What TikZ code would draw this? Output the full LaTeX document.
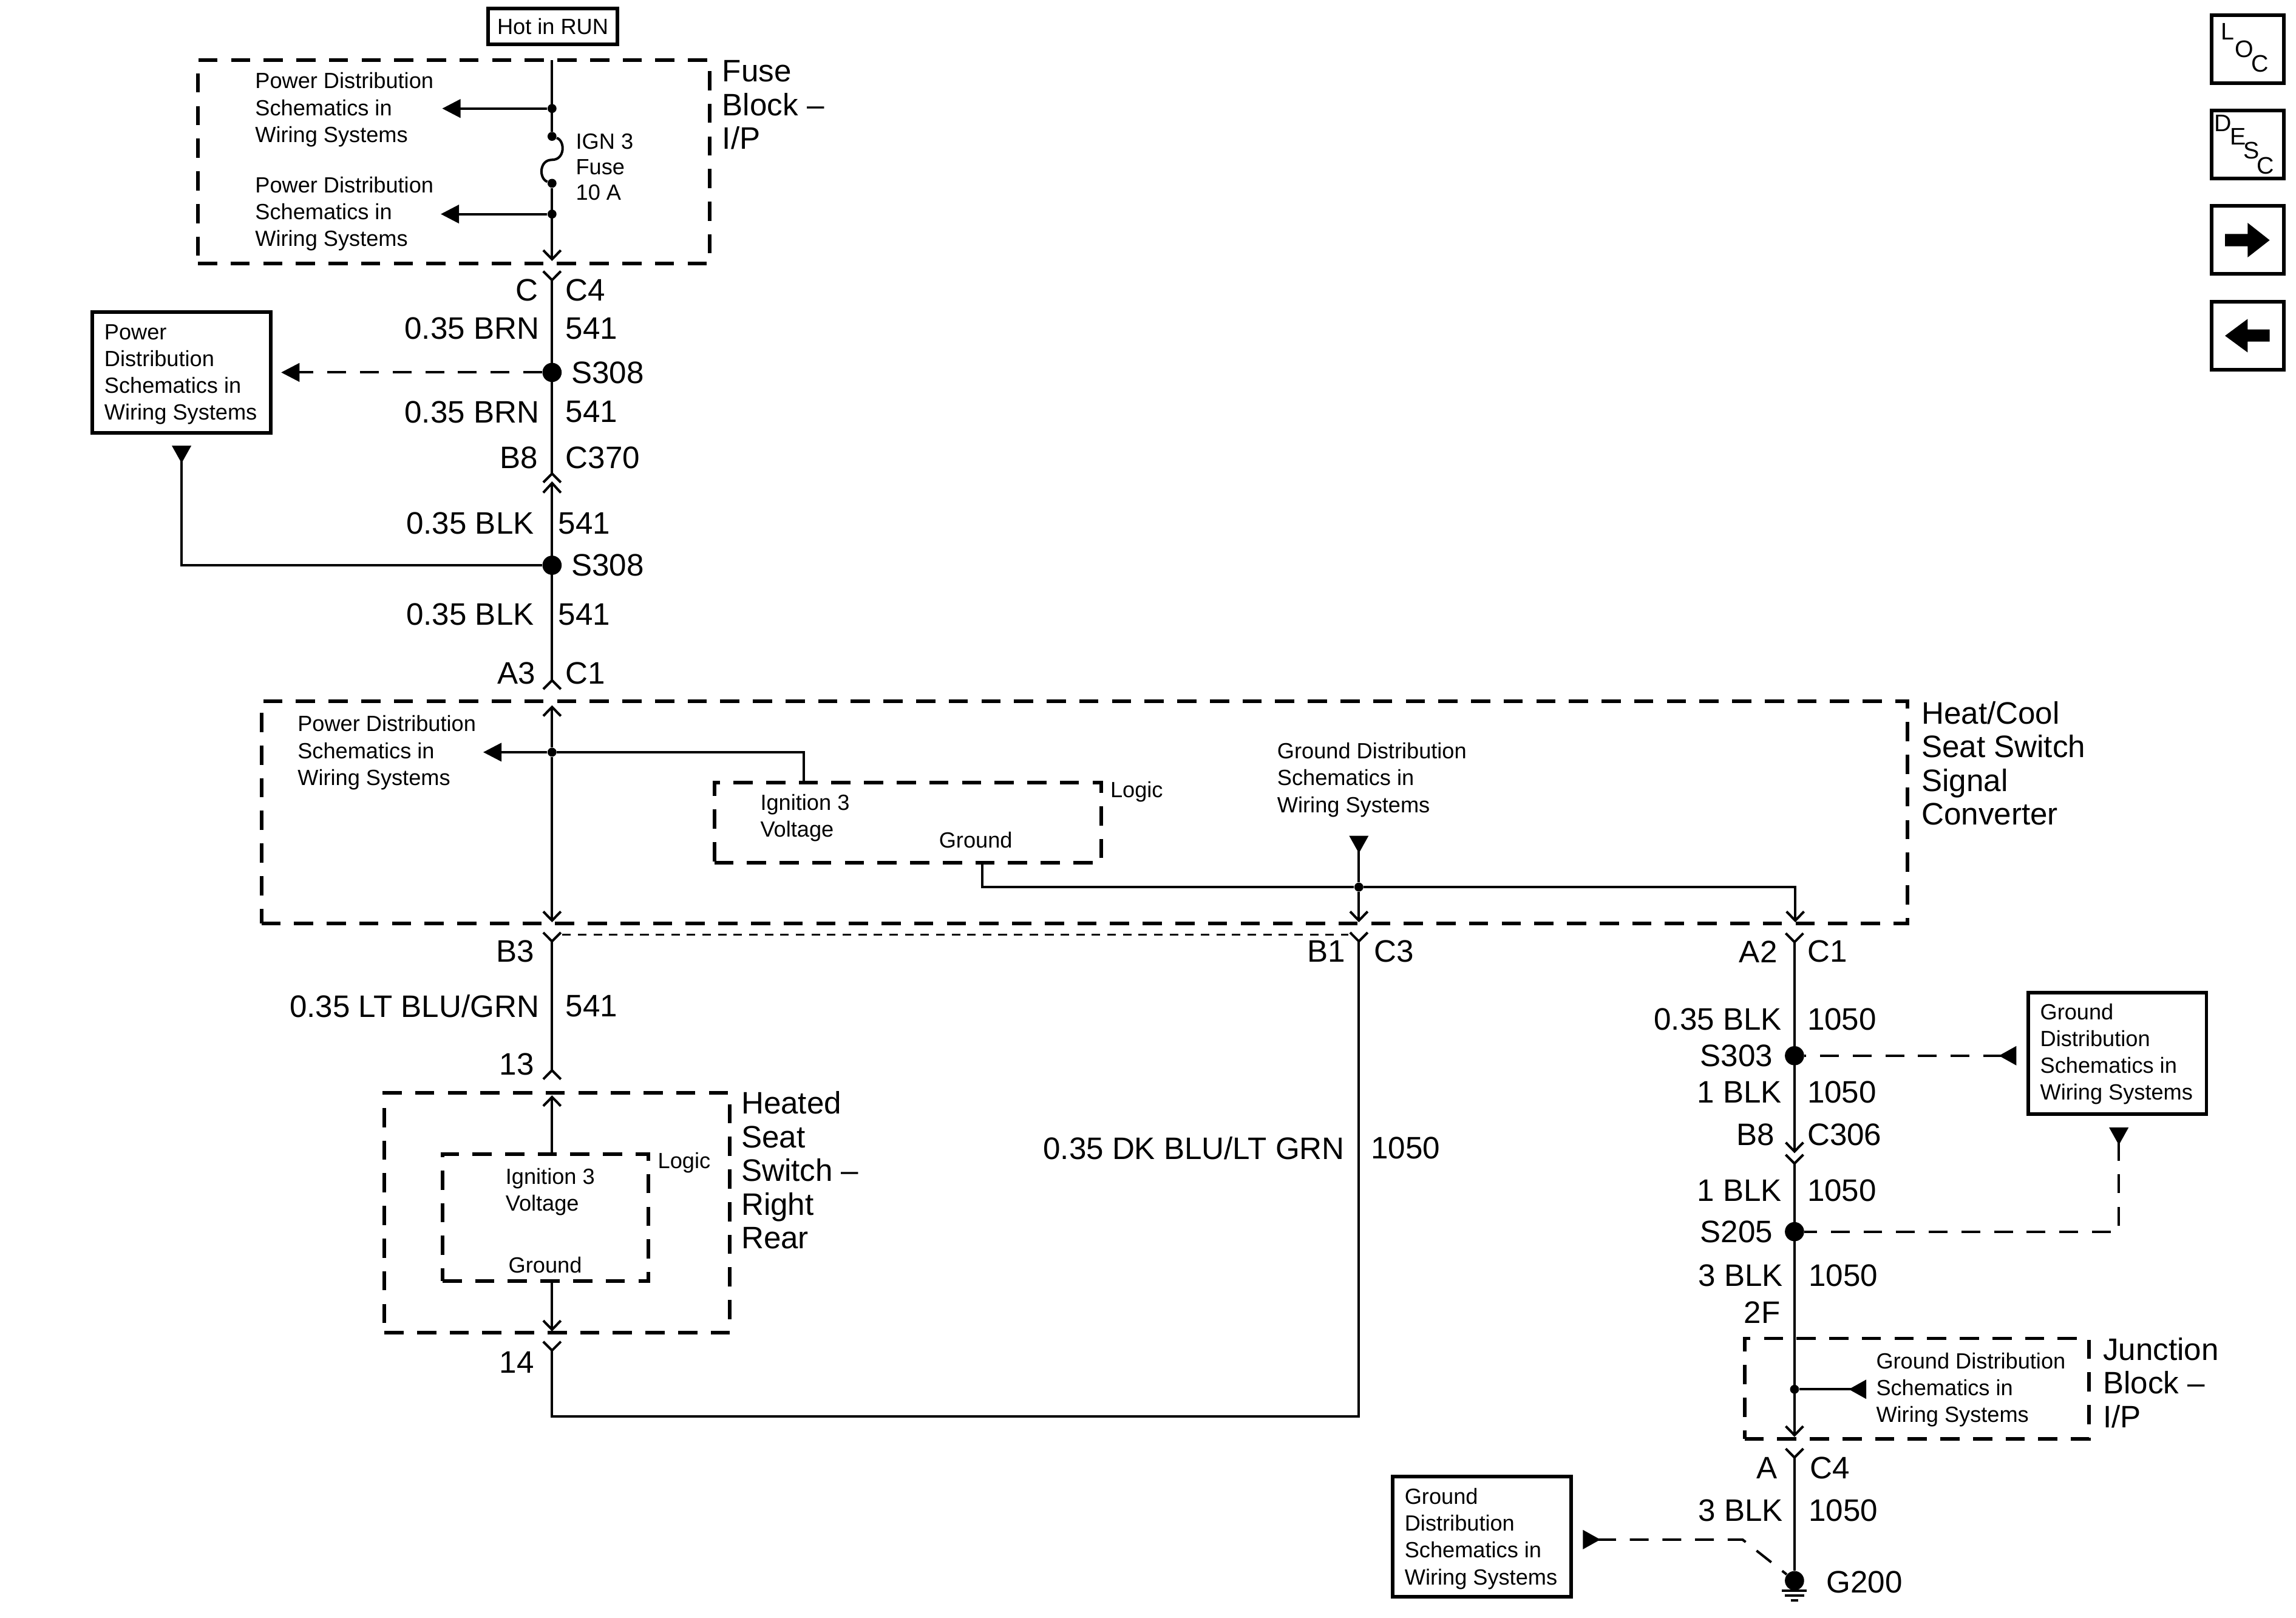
\documentclass[tikz,border=0pt]{standalone}
\usepackage{fontspec}
\setmainfont{Liberation Sans}
\usetikzlibrary{arrows.meta}
\tikzset{
  wire/.style={line width=1.15pt},
  conn/.style={wire, -{Straight Barb[length=4.2pt,width=8.2pt,line width=1.15pt]}},
  tipfill/.style={wire, -{Triangle[length=8.6pt,width=8.6pt]}},
  tipback/.style={wire, {Triangle[reversed,length=8.2pt,width=8.8pt]}-},
  dashwire/.style={dash pattern=on 8.8pt off 6.5pt},
  dashbox/.style={draw, line width=1.7pt, dash pattern=on 9pt off 6.3pt, inner sep=0pt},
  solidbox/.style={draw, line width=1.7pt, inner sep=0pt},
  dot/.style={circle, fill, inner sep=0pt, minimum size=4.2pt},
  splice/.style={circle, fill, inner sep=0pt, minimum size=9pt},
  small/.style={font=\fontsize{10.3}{12.6}\selectfont, align=left, inner sep=0pt},
  big/.style={font=\fontsize{14.55}{15.8}\selectfont, align=left, inner sep=0pt},
  pinl/.style={big, anchor=east},
  pinr/.style={big, anchor=west},
  txt/.style={small, anchor=west, yshift=-0.6pt},
  blocklbl/.style={big, anchor=north west},
  letter/.style={font=\fontsize{11.2}{13}\selectfont, inner sep=0pt}
}
\begin{document}
\begin{tikzpicture}[x=0.02412cm, y=-0.02415cm]
  \useasboundingbox (0,0) rectangle (1568,1103.1);

  % top fuse block
  \node[solidbox, minimum width=60.4pt, minimum height=16.6pt] (hot) at (377.5,18) {\fontsize{10.3}{12}\selectfont Hot in RUN};
  \node[dashbox, minimum width=240pt, minimum height=95.3pt] (fuse) at (310,110.5) {};
  \node[blocklbl] (fuselbl) at (493,41) {Fuse\\Block --\\I/P};
  \node[dot] (f1) at (377,74) {};
  \node[dot] (f2) at (377,93) {};
  \node[dot] (f3) at (377,125) {};
  \node[dot] (f4) at (377,146) {};
  \node[txt] (pd1) at (174,74) {Power Distribution\\Schematics in\\Wiring Systems};
  \node[txt] (pd2) at (174,145) {Power Distribution\\Schematics in\\Wiring Systems};
  \node[txt] (ign) at (393,113) {IGN 3\\[-0.6pt]Fuse\\[-0.6pt]10 A};
  \coordinate (ftop) at (377,41);
  \coordinate (fbot) at (377,178);
  \coordinate (a1) at (302,74);
  \coordinate (a2) at (301,146);
  \draw[wire] (ftop) -- (f2);
  \draw[wire] (f2) .. controls (386,96) and (386,109) .. (377,109) .. controls (368,109) and (368,122) .. (f3);
  \draw[conn] (f3) -- (fbot);
  \draw[tipfill] (f1) -- (a1);
  \draw[tipfill] (f4) -- (a2);

  % upper wire with the two splices
  \coordinate (y1) at (377,191);
  \coordinate (c370a) at (377,323);
  \coordinate (c370b) at (377,329.5);
  \coordinate (y2) at (377,464);
  \node[splice] (s1) at (377,254) {};
  \node[splice] (s2) at (377,385.5) {};
  \draw[wire] (371,185) -- (y1) -- (383,185);
  \draw[wire] (y1) -- (c370a);
  \draw[wire] (371,329) -- (c370a) -- (383,329);
  \draw[wire] (371,336) -- (c370b) -- (383,336);
  \draw[wire] (c370b) -- (y2);
  \draw[wire] (371,470) -- (y2) -- (383,470);
  \node[pinl] (lc) at (368,198) {C};
  \node[pinr] (rc) at (386,198) {C4};
  \node[pinl] (l1) at (368.5,224) {0.35 BRN};
  \node[pinr] (r1) at (386,224) {541};
  \node[pinr] (sp1) at (390,254) {S308};
  \node[pinl] (l2) at (368.5,281) {0.35 BRN};
  \node[pinr] (r2) at (386,281) {541};
  \node[pinl] (lb) at (367.5,312) {B8};
  \node[pinr] (rb) at (386,312) {C370};
  \node[pinl] (l3) at (365,357) {0.35 BLK};
  \node[pinr] (r3) at (381,357) {541};
  \node[pinr] (sp2) at (390,385.5) {S308};
  \node[pinl] (l4) at (365,419) {0.35 BLK};
  \node[pinr] (r4) at (381,419) {541};
  \node[pinl] (la) at (366,459) {A3};
  \node[pinr] (ra) at (386,459) {C1};

  % power distribution box on the left
  \node[solidbox, minimum width=83.5pt, minimum height=56.5pt] (pwr) at (124,254) {};
  \node[txt] (pwrtxt) at (71,254.5) {Power\\Distribution\\Schematics in\\Wiring Systems};
  \coordinate (a3) at (192,254);
  \coordinate (a4) at (124,304);
  \draw[tipfill, dashwire] (s1) -- (a3);
  \draw[tipback] (a4) |- (s2);

  % signal converter
  \node[dashbox, minimum width=771.5pt, minimum height=104pt] (conv) at (740.5,554) {};
  \node[blocklbl] (convlbl) at (1312,478) {Heat/Cool\\Seat Switch\\Signal\\Converter};
  \node[dashbox, minimum width=181.5pt, minimum height=37.5pt] (logic1) at (620,561) {};
  \node[txt] (logiclbl1) at (758,539) {Logic};
  \node[txt] (ig1) at (519,557) {Ignition 3\\Voltage};
  \node[txt] (gnd1) at (641,572) {Ground};
  \node[txt] (pd3) at (203,512.5) {Power Distribution\\Schematics in\\Wiring Systems};
  \node[txt] (gd1) at (872,531) {Ground Distribution\\Schematics in\\Wiring Systems};
  \node[dot] (c1) at (377,513) {};
  \node[dot] (c2) at (928,605) {};
  \coordinate (ctop) at (377,481);
  \coordinate (cb1) at (377,629);
  \coordinate (cb2) at (928,629);
  \coordinate (cb3) at (1226,629);
  \coordinate (a5) at (330,513);
  \coordinate (a6) at (928,570);
  \coordinate (g1) at (671,588);
  \coordinate (p1) at (549,533);
  \draw[conn] (c1) -- (ctop);
  \draw[conn] (c1) -- (cb1);
  \draw[tipfill] (c1) -- (a5);
  \draw[wire] (c1) -| (p1);
  \draw[wire] (g1) |- (c2);
  \draw[conn] (c2) -| (cb3);
  \draw[conn] (c2) -- (cb2);
  \draw[tipback] (a6) -- (c2);

  % wires below the converter
  \coordinate (y3) at (377,642);
  \coordinate (y4) at (928,642);
  \coordinate (y5) at (1225.5,642.5);
  \draw[line width=0.95pt, dash pattern=on 4pt off 3.3pt] (384,637.5) -- (921,637.5);
  \foreach \pos in {y3,y4,y5}
    \draw[wire] ([shift={(-6,-6)}]\pos) -- (\pos) -- ([shift={(6,-6)}]\pos);
  \node[pinl] (lb3) at (365,649) {B3};
  \node[pinl] (lb1) at (919,649) {B1};
  \node[pinr] (rc3) at (938,649) {C3};
  \node[pinl] (la2) at (1214,649) {A2};
  \node[pinr] (rc1) at (1234,649) {C1};
  \node[pinl] (l5) at (368.5,686) {0.35 LT BLU/GRN};
  \node[pinr] (r5) at (386,686) {541};
  \node[pinl] (l6) at (918.5,783) {0.35 DK BLU/LT GRN};
  \node[pinr] (r6) at (936,783) {1050};

  % heated seat switch
  \coordinate (y6) at (377,730);
  \coordinate (y7) at (377,921);
  \node[dashbox, minimum width=162pt, minimum height=112.5pt] (seat) at (380.5,827) {};
  \node[blocklbl] (seatlbl) at (506,744) {Heated\\Seat\\Switch --\\Right\\Rear};
  \node[dashbox, minimum width=96.5pt, minimum height=59.5pt] (logic2) at (372.5,830.5) {};
  \node[txt] (logiclbl2) at (449,792) {Logic};
  \node[txt] (ig2) at (345,812) {Ignition 3\\Voltage};
  \node[txt] (gnd2) at (347,862) {Ground};
  \node[pinl] (l13) at (365,726) {13};
  \node[pinl] (l14) at (365,929) {14};
  \coordinate (a7) at (377,747);
  \coordinate (a8) at (377,908);
  \coordinate (lg1) at (377,787);
  \coordinate (lg2) at (377,874);
  \draw[wire] (y3) -- (y6);
  \draw[wire] (371,736) -- (y6) -- (383,736);
  \draw[conn] (lg1) -- (a7);
  \draw[conn] (lg2) -- (a8);
  \draw[wire] (371,915) -- (y7) -- (383,915);
  \draw[wire] (y7) |- (928,966) -- (y4);

  % right hand column
  \coordinate (c306a) at (1225.5,786.5);
  \coordinate (c306b) at (1225.5,793.5);
  \coordinate (y8) at (1225.5,994);
  \coordinate (a9) at (1225.5,980);
  \node[splice] (s3) at (1225.5,720) {};
  \node[splice] (s4) at (1225.5,840) {};
  \node[dot] (j1) at (1225.5,947.5) {};
  \node[splice] (g200) at (1225.5,1078) {};
  \draw[conn] (y5) -- (c306a);
  \draw[wire] (1219.5,787.5) -- (c306b) -- (1231.5,787.5);
  \draw[conn] (c306b) -- (a9);
  \draw[wire] (1219.5,988) -- (y8) -- (1231.5,988);
  \draw[wire] (y8) -- (g200);
  \draw[wire] (1217,1085) -- (1234,1085);
  \draw[wire] (1219,1088.3) -- (1232,1088.3);
  \draw[wire] (1223,1091.6) -- (1228,1091.6);
  \node[pinl] (l7) at (1217,695) {0.35 BLK};
  \node[pinr] (r7) at (1234,695) {1050};
  \node[pinl] (sl3) at (1211,720) {S303};
  \node[pinl] (l8) at (1217,745) {1 BLK};
  \node[pinr] (r8) at (1234,745) {1050};
  \node[pinl] (lb8) at (1212,774) {B8};
  \node[pinr] (rc306) at (1234,774) {C306};
  \node[pinl] (l9) at (1217,812) {1 BLK};
  \node[pinr] (r9) at (1234,812) {1050};
  \node[pinl] (sl4) at (1211,840) {S205};
  \node[pinl] (l10) at (1218,870) {3 BLK};
  \node[pinr] (r10) at (1235,870) {1050};
  \node[pinl] (l2f) at (1216,895) {2F};
  \node[pinl] (la4) at (1214,1001) {A};
  \node[pinr] (rc4) at (1236,1001) {C4};
  \node[pinl] (l11) at (1218,1030) {3 BLK};
  \node[pinr] (r11) at (1235,1030) {1050};
  \node[pinr] (g200lbl) at (1247,1079) {G200};

  % ground distribution boxes
  \node[solidbox, minimum width=83.5pt, minimum height=57pt] (gbox1) at (1446,718.5) {};
  \node[txt] (gtxt1) at (1393,718) {Ground\\Distribution\\Schematics in\\Wiring Systems};
  \node[solidbox, minimum width=83.5pt, minimum height=56.5pt] (gbox2) at (1012,1048) {};
  \node[txt] (gtxt2) at (959,1048.5) {Ground\\Distribution\\Schematics in\\Wiring Systems};
  \coordinate (a10) at (1377,720);
  \coordinate (a11) at (1447,769);
  \coordinate (a12) at (1081,1050);
  \coordinate (bend) at (1190,1050);
  \draw[tipback, dashwire] (a10) -- (s3);
  \draw[tipback, dashwire] (a11) |- (s4);
  \draw[tipback, dashwire] (a12) -- (bend) -- (g200);

  % junction block
  \node[dashbox, minimum width=161.5pt, minimum height=47pt] (jb) at (1309,947) {};
  \node[blocklbl] (jblbl) at (1436,912) {Junction\\Block --\\I/P};
  \node[txt] (gd2) at (1281,947) {Ground Distribution\\Schematics in\\Wiring Systems};
  \coordinate (a13) at (1274.5,947.5);
  \draw[tipback] (a13) -- (j1);

  % buttons on the right
  \foreach \nm/\yc in {loc/33.5, desc/98.5, next/163.5, prev/229}
    \node[solidbox, minimum width=34pt, minimum height=32pt] (\nm) at (1535,\yc) {};
  \node[letter] (ll) at (1521.5,21.6) {L};
  \node[letter] (lo) at (1532.6,33.5) {O};
  \node[letter] (lc2) at (1543.5,43.6) {C};
  \node[letter] (dd) at (1518,84) {D};
  \node[letter] (de) at (1528.5,93) {E};
  \node[letter] (ds) at (1537.7,102.7) {S};
  \node[letter] (dc) at (1547,113) {C};
  \fill (1519.5,159.6) -- (1535,159.6) -- (1535,152) -- (1550,163.8) -- (1535,175.5) -- (1535,168) -- (1519.5,168) -- cycle;
  \fill (1550,224.7) -- (1535,224.7) -- (1535,217.5) -- (1519.5,229) -- (1535,240.4) -- (1535,233) -- (1550,233) -- cycle;
\end{tikzpicture}
\end{document}
